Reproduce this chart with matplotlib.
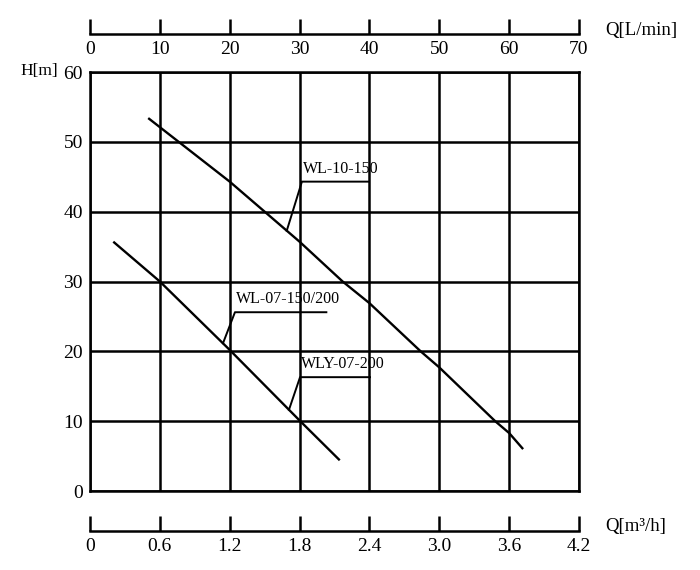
import matplotlib
matplotlib.use("Agg")
import matplotlib.pyplot as plt
import numpy as np

# pump curves, Q in m3/h, H in m
q_wl10 = [0.50, 1.20, 1.80, 2.17, 2.40, 2.84, 3.00, 3.48, 3.60, 3.72]
h_wl10 = [53.4, 44.3, 35.7, 30.0, 26.9, 20.0, 17.7, 10.0, 8.3, 6.0]

q_wl07 = [0.20, 0.60, 1.20, 1.80, 2.145]
h_wl07 = [35.7, 30.0, 20.2, 10.1, 4.4]

q_ticks = [0, 0.6, 1.2, 1.8, 2.4, 3.0, 3.6, 4.2]
q_tick_labels = ["0", "0.6", "1.2", "1.8", "2.4", "3.0", "3.6", "4.2"]
lmin_ticks = [0, 10, 20, 30, 40, 50, 60, 70]
h_ticks = [0, 10, 20, 30, 40, 50, 60]

# leader annotations
labels = ["WL-10-150", "WL-07-150/200", "WLY-07-200"]
label_curve = ["wl10", "wl07", "wl07"]
label_start_x = [1.69, 1.142, 1.709]
label_elbow_x = [1.82, 1.245, 1.804]
label_elbow_y = [44.3, 25.6, 16.3]
label_end_x = [2.39, 2.03, 2.405]

num_font = "Liberation Serif"
txt_font = "Liberation Serif"

fig = plt.figure(figsize=(7, 5.7), dpi=100)
W, H = 700.0, 570.0
left, right = 90 / W, 579 / W
ax = fig.add_axes([left, 79 / H, right - left, 419 / H])

ax.plot(q_wl10, h_wl10, color="black", lw=1.7, solid_capstyle="butt")
ax.plot(q_wl07, h_wl07, color="black", lw=1.7, solid_capstyle="butt")

ax.set_xlim(0, 4.2)
ax.set_ylim(0, 60)
ax.set_xticks(q_ticks)
ax.set_yticks(h_ticks)
ax.grid(True, color="black", lw=1.8)
ax.tick_params(axis="x", length=0, labelbottom=False)
ax.tick_params(axis="y", length=0, pad=5)
for t in ax.get_yticklabels():
    t.set_fontfamily(num_font)
    t.set_fontsize(14)
for s in ax.spines.values():
    s.set_linewidth(1.8)
    s.set_color("black")

curves = {"wl10": (q_wl10, h_wl10), "wl07": (q_wl07, h_wl07)}
for lab, c, x0, xe, ye, x1 in zip(labels, label_curve, label_start_x,
                                   label_elbow_x, label_elbow_y, label_end_x):
    qx, hy = curves[c]
    y0 = np.interp(x0, qx, hy)
    ax.plot([x0, xe, x1], [y0, ye, ye], color="black", lw=1.4)
    ax.text(xe + 0.01, ye + 0.7, lab, ha="left", va="bottom",
            family=txt_font, fontsize=11.5)


def scale_axes(y_px, xmax, ticks, ticklabels=None):
    a = fig.add_axes([left, 1 - y_px / H, right - left, 0.0001])
    a.set_xlim(0, xmax)
    a.set_xticks(ticks)
    if ticklabels is not None:
        a.set_xticklabels(ticklabels)
    a.set_yticks([])
    a.patch.set_visible(False)
    for k in ["top", "left", "right"]:
        a.spines[k].set_visible(False)
    a.spines["bottom"].set_linewidth(1.8)
    a.tick_params(axis="x", direction="in", length=11, width=1.8, pad=5)
    for t in a.get_xticklabels():
        t.set_fontfamily(num_font)
        t.set_fontsize(14)
    return a


scale_axes(34, 70, lmin_ticks)
scale_axes(531, 4.2, q_ticks, q_tick_labels)

fig.text(605 / W, 1 - 30 / H, "Q[L/min]", ha="left", va="center",
         family=txt_font, fontsize=13.5)
fig.text(605 / W, 1 - 527 / H, "Q[m\u00b3/h]", ha="left", va="center",
         family=txt_font, fontsize=13.5)
fig.text(58 / W, 1 - 71 / H, "H[m]", ha="right", va="center",
         family=txt_font, fontsize=12.5)

fig.savefig("out.png", dpi=100, facecolor="white")
